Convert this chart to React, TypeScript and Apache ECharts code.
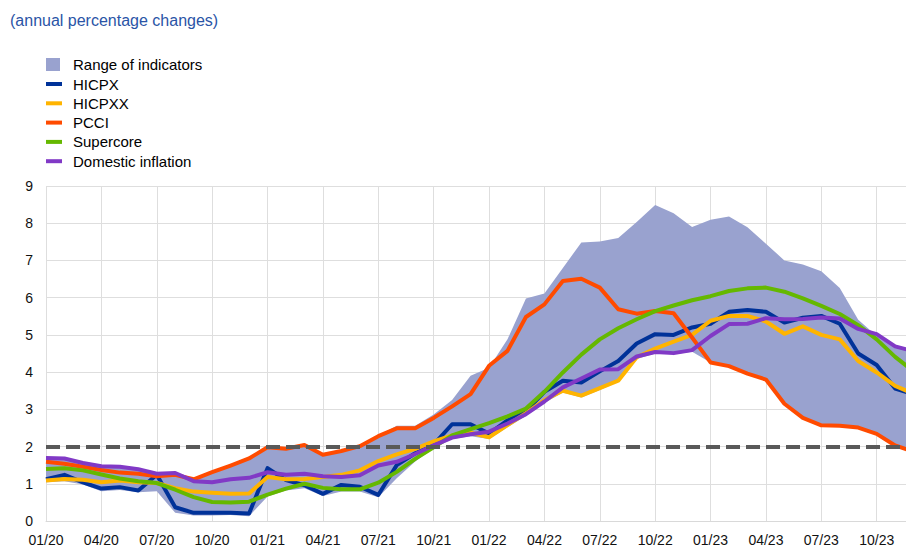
import React, { useEffect, useRef } from "react";
import * as echarts from "echarts";

const YEARS = ["20", "21", "22", "23"];
const MONTHS = ["01", "02", "03", "04", "05", "06", "07", "08", "09", "10", "11", "12"];
const CATEGORIES: string[] = [];
YEARS.forEach((y) => MONTHS.forEach((m) => CATEGORIES.push(m + "/" + y)));

const HICPX = [
  1.12, 1.24, 1.04, 0.87, 0.91, 0.82, 1.24, 0.37, 0.22, 0.22, 0.22, 0.2,
  1.42, 1.1, 0.96, 0.73, 0.97, 0.92, 0.7, 1.5, 1.82, 2.05, 2.6, 2.6,
  2.35, 2.7, 2.95, 3.47, 3.77, 3.72, 4.02, 4.3, 4.77, 5.02, 5.0, 5.2,
  5.3, 5.62, 5.67, 5.62, 5.33, 5.46, 5.51, 5.3, 4.5, 4.19, 3.56, 3.4,
];
const HICPXX = [
  1.09, 1.13, 1.11, 1.04, 1.09, 1.04, 1.02, 0.88, 0.79, 0.76, 0.73, 0.74,
  1.18, 1.12, 1.13, 1.18, 1.24, 1.36, 1.61, 1.79, 1.94, 2.14, 2.3, 2.37,
  2.25, 2.58, 2.9, 3.25, 3.5, 3.37, 3.57, 3.77, 4.4, 4.63, 4.82, 5.0,
  5.38, 5.51, 5.51, 5.36, 5.03, 5.23, 5.0, 4.88, 4.3, 3.99, 3.63, 3.42,
];
const PCCI = [
  1.59, 1.54, 1.46, 1.37, 1.3, 1.27, 1.2, 1.24, 1.12, 1.31, 1.49, 1.68,
  1.98, 1.94, 2.04, 1.78, 1.88, 2.01, 2.28, 2.49, 2.49, 2.77, 3.08, 3.41,
  4.17, 4.57, 5.48, 5.82, 6.45, 6.51, 6.27, 5.69, 5.57, 5.64, 5.58, 4.93,
  4.26, 4.16, 3.96, 3.8, 3.15, 2.77, 2.57, 2.56, 2.51, 2.34, 2.03, 1.86,
];
const SUPERCORE = [
  1.4, 1.42, 1.36, 1.25, 1.14, 1.07, 1.02, 0.84, 0.64, 0.51, 0.5, 0.52,
  0.71, 0.87, 1.0, 0.89, 0.85, 0.85, 1.03, 1.32, 1.67, 1.98, 2.3, 2.47,
  2.63, 2.81, 3.02, 3.47, 3.99, 4.47, 4.88, 5.18, 5.42, 5.64, 5.79, 5.93,
  6.04, 6.18, 6.25, 6.27, 6.16, 5.98, 5.78, 5.56, 5.26, 4.88, 4.41, 4.02,
];
const DOMESTIC = [
  1.69, 1.68, 1.56, 1.47, 1.46, 1.39, 1.27, 1.29, 1.07, 1.04, 1.12, 1.16,
  1.31, 1.24, 1.27, 1.2, 1.18, 1.23, 1.49, 1.59, 1.8, 2.03, 2.24, 2.33,
  2.4, 2.62, 2.87, 3.21, 3.59, 3.83, 4.07, 4.08, 4.42, 4.54, 4.51, 4.59,
  4.97, 5.29, 5.3, 5.45, 5.42, 5.43, 5.47, 5.44, 5.16, 5.02, 4.69, 4.56,
];
const RANGE_LOW = [
  1.04, 1.07, 0.98, 0.8, 0.83, 0.77, 0.8, 0.22, 0.15, 0.15, 0.16, 0.13,
  0.66, 0.82, 0.88, 0.67, 0.79, 0.79, 0.64, 1.15, 1.6, 1.96, 2.2, 2.28,
  2.2, 2.52, 2.82, 3.17, 3.45, 3.32, 3.52, 3.74, 4.35, 4.5, 4.48, 4.55,
  4.26, 4.16, 3.96, 3.8, 3.15, 2.77, 2.57, 2.56, 2.51, 2.34, 2.03, 1.86,
];
const RANGE_HIGH = [
  1.72, 1.7, 1.6, 1.5, 1.48, 1.42, 1.3, 1.31, 1.13, 1.32, 1.5, 1.7,
  2.0, 1.97, 2.07, 1.82, 1.9, 2.05, 2.3, 2.56, 2.56, 2.86, 3.25, 3.9,
  4.12, 4.88, 5.98, 6.11, 6.8, 7.48, 7.51, 7.6, 8.03, 8.49, 8.27, 7.9,
  8.09, 8.18, 7.89, 7.45, 7.0, 6.89, 6.71, 6.26, 5.41, 4.97, 4.72, 4.6,
];
const Y_TICKS = { min: 0, max: 9, interval: 1 };
const TARGET = 2;

const BAND = "#99a2cf";
const FONT = "Liberation Sans, Arial, sans-serif";

export default function App() {
  const ref = useRef<HTMLDivElement>(null);
  useEffect(() => {
    if (!ref.current) return;
    const chart = echarts.init(ref.current, undefined, { renderer: "svg" });
    const lineSeries = (name: string, data: number[], color: string, extra: any = {}) => ({
      name,
      type: "line",
      data,
      color,
      symbol: "none",
      showSymbol: false,
      lineStyle: { width: 4, color, join: "round" },
      ...extra,
    });
    chart.setOption({
      animation: false,
      textStyle: { fontFamily: FONT },
      title: {
        text: "(annual percentage changes)",
        left: 10,
        top: 12,
        padding: 0,
        textStyle: { fontSize: 16, fontWeight: "normal", color: "#2a54a6", fontFamily: FONT },
      },
      legend: [
        {
          data: [{ name: "Range of indicators", icon: "rect", itemStyle: { color: BAND } }],
          orient: "vertical",
          left: 46,
          top: 57,
          padding: 0,
          itemWidth: 14,
          itemHeight: 13,
          selectedMode: false,
          textStyle: { fontSize: 15, color: "#000", fontFamily: FONT, padding: [0, 0, 0, 8] },
        },
        {
          data: [
            { name: "HICPX", icon: "rect" },
            { name: "HICPXX", icon: "rect" },
            { name: "PCCI", icon: "rect" },
            { name: "Supercore", icon: "rect" },
            { name: "Domestic inflation", icon: "rect" },
          ],
          orient: "vertical",
          left: 46,
          top: 76.5,
          padding: 0,
          itemWidth: 16,
          itemHeight: 4,
          itemGap: 4.3,
          selectedMode: false,
          textStyle: { fontSize: 15, lineHeight: 14, color: "#000", fontFamily: FONT, padding: [0, 0, 0, 6] },
        },
      ],
      grid: { left: 46, right: 6.4, top: 186, bottom: 25, containLabel: false },
      xAxis: {
        type: "category",
        data: CATEGORIES,
        boundaryGap: false,
        axisLine: { show: true, lineStyle: { color: "#d9d9d9", width: 1 } },
        axisTick: { show: false },
        axisLabel: { interval: 2, color: "#111", fontSize: 14, margin: 12, fontFamily: FONT },
        splitLine: { show: true, interval: 2, lineStyle: { color: "#dedede", width: 1 } },
      },
      yAxis: {
        type: "value",
        min: Y_TICKS.min,
        max: Y_TICKS.max,
        interval: Y_TICKS.interval,
        axisLine: { show: false },
        axisTick: { show: false },
        axisLabel: { color: "#111", fontSize: 14, margin: 13, fontFamily: FONT },
        splitLine: { show: true, lineStyle: { color: "#dedede", width: 1 } },
      },
      series: [
        {
          name: "range-base",
          type: "line",
          stack: "range",
          data: RANGE_LOW,
          symbol: "none",
          silent: true,
          lineStyle: { width: 0, opacity: 0 },
        },
        {
          name: "Range of indicators",
          type: "line",
          stack: "range",
          color: BAND,
          data: RANGE_HIGH.map((h, i) => +(h - RANGE_LOW[i]).toFixed(3)),
          symbol: "none",
          silent: true,
          lineStyle: { width: 0, opacity: 0 },
          areaStyle: { color: BAND, opacity: 1 },
        },
        lineSeries("HICPX", HICPX, "#003299"),
        lineSeries("HICPXX", HICPXX, "#ffb400"),
        lineSeries("PCCI", PCCI, "#ff4b00"),
        lineSeries("Supercore", SUPERCORE, "#65b800"),
        lineSeries("Domestic inflation", DOMESTIC, "#8139c6", {
          markLine: {
            silent: true,
            symbol: ["none", "none"],
            label: { show: false },
            lineStyle: { color: "#595959", type: [14, 6], width: 4, cap: "butt" },
            data: [{ yAxis: TARGET }],
          },
        }),
      ],
    });
    return () => chart.dispose();
  }, []);
  return (
    <div
      style={{
        position: "fixed",
        left: 0,
        top: 0,
        width: 906,
        height: 547,
        overflow: "hidden",
        background: "#fff",
      }}
    >
      <div ref={ref} style={{ width: 920, height: 547 }} />
    </div>
  );
}
